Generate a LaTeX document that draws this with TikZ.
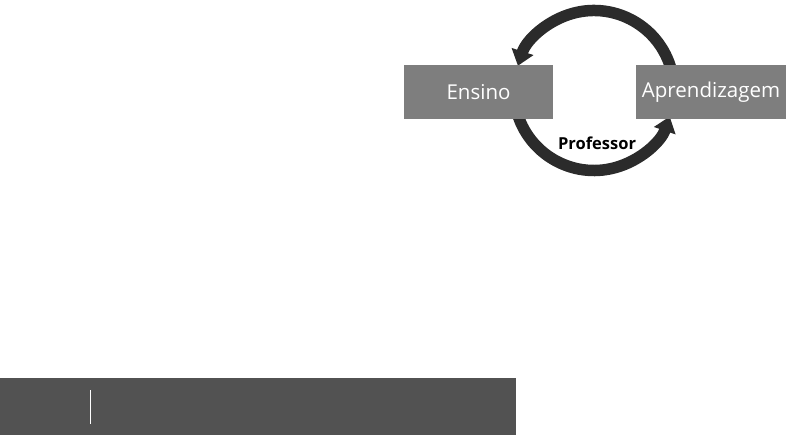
\documentclass[tikz,border=0pt]{standalone}
\usepackage{fontspec}
\setmainfont{Open Sans}
\usepackage{tikz}
\usetikzlibrary{positioning, arrows.meta}

\definecolor{boxgray}{HTML}{7E7E7E}
\definecolor{arcdark}{HTML}{2B2B2B}
\definecolor{bardark}{HTML}{525252}

\tikzset{
  stagebox/.style={fill=boxgray, text=white, minimum height=54pt,
    inner sep=0pt, font=\fontsize{20.5}{24}\selectfont},
  cyclearrow/.style={draw=arcdark, line width=11.5pt, -{Triangle[width=22pt,length=15pt]}}
}

\begin{document}
\begin{tikzpicture}[x=1pt,y=1pt]
\useasboundingbox (0,0) rectangle (800,435);
\coordinate (cyc) at (594,344.5);
% upper and lower arcs of the cycle
\draw[cyclearrow] ([shift={(15:80)}]cyc) arc[start angle=15, end angle=162, radius=80];
\draw[cyclearrow] ([shift={(195:80)}]cyc) arc[start angle=195, end angle=341, radius=80];
\node[stagebox, minimum width=149pt] (ensino) at (478.5,343) {Ensino};
\node[stagebox, minimum width=150pt] (aprend) at (711,343) {Aprendizagem};
\node[font=\fontsize{16.5}{19}\selectfont\bfseries] (prof) at (597,292) {Professor};
% bottom bar
\fill[bardark] (0,0) rectangle (516,57);
\coordinate (sepa) at (90,11);
\coordinate (sepb) at (90,45);
\draw[white, line width=1pt] (sepa) -- (sepb);
\end{tikzpicture}
\end{document}
